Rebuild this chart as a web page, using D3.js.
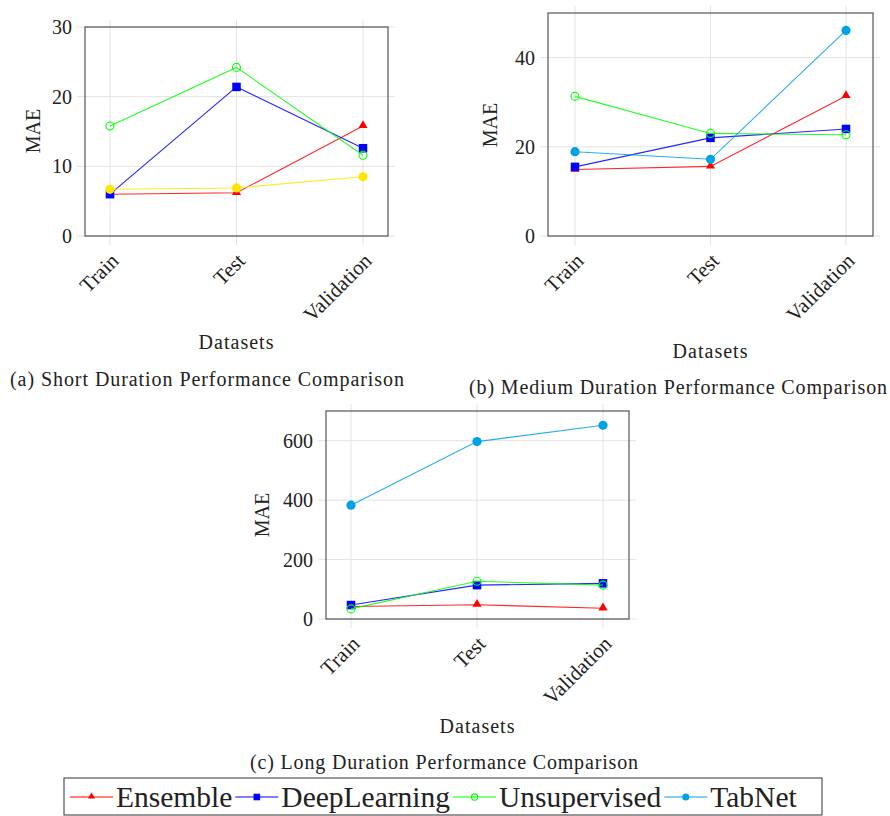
<!DOCTYPE html>
<html><head><meta charset="utf-8">
<script src="https://cdn.jsdelivr.net/npm/d3@7"></script>
<style>
html,body{margin:0;padding:0;background:#fff;}
text{font-family:"Liberation Serif","Times New Roman",serif;fill:#222;}
</style></head>
<body>
<svg id="chart" width="890" height="816"></svg>
<script>
// ---------- DATA ----------
const categories = ["Train", "Test", "Validation"];
const seriesNames = ["Ensemble", "DeepLearning", "Unsupervised", "TabNet"];

// (a) Short duration
const shortEnsemble     = [6.0, 6.2, 15.8];
const shortDeepLearning = [6.0, 21.4, 12.6];
const shortUnsupervised = [15.8, 24.2, 11.6];
const shortTabNet       = [6.7, 6.9, 8.5];
const shortTicks = [0, 10, 20, 30];

// (b) Medium duration
const mediumEnsemble     = [14.9, 15.6, 31.4];
const mediumDeepLearning = [15.5, 22.0, 24.0];
const mediumUnsupervised = [31.3, 23.0, 22.7];
const mediumTabNet       = [18.9, 17.2, 46.1];
const mediumTicks = [0, 20, 40];

// (c) Long duration
const longEnsemble     = [42, 48, 36];
const longDeepLearning = [47, 114, 120];
const longUnsupervised = [34, 127, 114];
const longTabNet       = [383, 597, 652];
const longTicks = [0, 200, 400, 600];

const captions = [
  "(a) Short Duration Performance Comparison",
  "(b) Medium Duration Performance Comparison",
  "(c) Long Duration Performance Comparison"
];
const xLabel = "Datasets";
const yLabel = "MAE";

// ---------- STYLES ----------
const styles = {
  Ensemble:     {color: "#ff0000", marker: "triangle"},
  DeepLearning: {color: "#0000ff", marker: "square"},
  Unsupervised: {color: "#00ff00", marker: "opencircle"},
  TabNet:       {color: "#00a2e3", marker: "circle"}
};
const shortTabNetColor = "#ffe600";

const svg = d3.select("#chart");

const panels = [
  {left: 85, right: 388, top: 27, bottom: 236, yMax: 30, ticks: shortTicks,
   xr: [110, 363], series: [shortEnsemble, shortDeepLearning, shortUnsupervised, shortTabNet],
   tabColor: shortTabNetColor, caption: captions[0], capX: 207, capY: 386, capW: 394,
   xlabX: 236, xlabY: 349, ylabX: 40, ylabY: 131},
  {left: 548, right: 873, top: 13, bottom: 236, yMax: 50, ticks: mediumTicks,
   xr: [575, 846], series: [mediumEnsemble, mediumDeepLearning, mediumUnsupervised, mediumTabNet],
   tabColor: null, caption: captions[1], capX: 678, capY: 394, capW: 418,
   xlabX: 710, xlabY: 358, ylabX: 497, ylabY: 125},
  {left: 326, right: 629, top: 411, bottom: 619, yMax: 700, ticks: longTicks,
   xr: [351, 603], series: [longEnsemble, longDeepLearning, longUnsupervised, longTabNet],
   tabColor: null, caption: captions[2], capX: 444, capY: 769, capW: 388,
   xlabX: 477, xlabY: 733, ylabX: 269, ylabY: 515}
];

function drawMarker(g, type, color, x, y, scale) {
  scale = scale || 1;
  if (type === "triangle") {
    g.append("path").attr("d", d3.symbol(d3.symbolTriangle, 36 * scale)())
      .attr("transform", `translate(${x},${y - 0.5})`).attr("fill", color);
  } else if (type === "square") {
    const s = 8.5 * Math.sqrt(scale);
    g.append("rect").attr("x", x - s / 2).attr("y", y - s / 2).attr("width", s).attr("height", s).attr("fill", color);
  } else if (type === "opencircle") {
    g.append("circle").attr("cx", x).attr("cy", y).attr("r", 4 * Math.sqrt(scale))
      .attr("fill", "none").attr("stroke", color).attr("stroke-width", 1.1);
  } else {
    g.append("circle").attr("cx", x).attr("cy", y).attr("r", 4.6 * Math.sqrt(scale)).attr("fill", color);
  }
}

panels.forEach(p => {
  const g = svg.append("g");
  const x = d3.scalePoint().domain(categories).range(p.xr);
  const y = d3.scaleLinear().domain([0, p.yMax]).range([p.bottom, p.top]);

  // grid
  g.selectAll(".hg").data(p.ticks).enter().append("line")
    .attr("x1", p.left - 8).attr("x2", p.right + 7)
    .attr("y1", d => y(d)).attr("y2", d => y(d))
    .attr("stroke", "#e3e3e3").attr("stroke-width", 1);
  g.selectAll(".vg").data(categories).enter().append("line")
    .attr("x1", d => x(d)).attr("x2", d => x(d))
    .attr("y1", p.top - 7).attr("y2", p.bottom + 9)
    .attr("stroke", "#e3e3e3").attr("stroke-width", 1);

  // frame
  g.append("rect").attr("x", p.left).attr("y", p.top)
    .attr("width", p.right - p.left).attr("height", p.bottom - p.top)
    .attr("fill", "none").attr("stroke", "#555").attr("stroke-width", 1.2);

  // y tick labels
  g.selectAll(".yt").data(p.ticks).enter().append("text")
    .attr("x", p.left - 13).attr("y", d => y(d)).attr("dy", "0.35em")
    .attr("text-anchor", "end").attr("font-size", 20).text(d => d);

  // x tick labels
  g.selectAll(".xt").data(categories).enter().append("text")
    .attr("transform", d => `translate(${x(d) + 10},${p.bottom + 26}) rotate(-45)`)
    .attr("text-anchor", "end").attr("font-size", 21).text(d => d);

  // axis labels
  g.append("text").attr("x", p.xlabX).attr("y", p.xlabY).attr("text-anchor", "middle")
    .attr("font-size", 20).attr("textLength", 75).attr("lengthAdjust", "spacing").text(xLabel);
  g.append("text").attr("transform", `translate(${p.ylabX},${p.ylabY}) rotate(-90)`)
    .attr("text-anchor", "middle").attr("font-size", 20).text(yLabel);

  // caption
  g.append("text").attr("x", p.capX).attr("y", p.capY).attr("text-anchor", "middle")
    .attr("font-size", 20).attr("textLength", p.capW).attr("lengthAdjust", "spacing").text(p.caption);

  // series
  const line = d3.line().x((d, i) => x(categories[i])).y(d => y(d));
  seriesNames.forEach((name, si) => {
    const vals = p.series[si];
    const st = styles[name];
    const color = (name === "TabNet" && p.tabColor) ? p.tabColor : st.color;
    g.append("path").datum(vals).attr("d", line).attr("fill", "none")
      .attr("stroke", color).attr("stroke-width", 1.1).attr("stroke-opacity", 0.85);
    vals.forEach((v, i) => drawMarker(g, st.marker, color, x(categories[i]), y(v)));
  });
});

// legend
const lg = svg.append("g");
lg.append("rect").attr("x", 64).attr("y", 778).attr("width", 758).attr("height", 37)
  .attr("fill", "#fff").attr("stroke", "#333").attr("stroke-width", 1);
let cx = 70;
const ly = 797;
seriesNames.forEach(name => {
  const st = styles[name];
  lg.append("line").attr("x1", cx).attr("x2", cx + 43).attr("y1", ly).attr("y2", ly)
    .attr("stroke", st.color).attr("stroke-width", 1.2);
  drawMarker(lg, st.marker, st.color, cx + 21.5, ly, 0.6);
  const t = lg.append("text").attr("x", cx + 46).attr("y", ly).attr("dy", "0.35em")
    .attr("font-size", 29.5).text(name);
  cx += 46 + t.node().getComputedTextLength() + 3;
});
</script>
</body></html>
